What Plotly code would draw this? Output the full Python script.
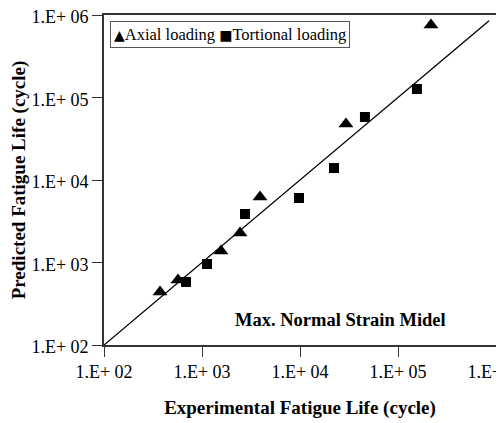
import plotly.graph_objects as go

# experimental vs predicted fatigue life (cycles)
axial_exp = [373, 569, 1563, 2443, 3908, 29440, 217000]
axial_pred = [439, 614, 1377, 2281, 6221, 47750, 757000]

tors_exp = [687, 1125, 2748, 9770, 22230, 46000, 156000]
tors_pred = [581, 959, 3873, 6053, 13960, 58000, 126800]

line_x = [100, 850000]
line_y = [100, 850000]

tick_vals = [1e2, 1e3, 1e4, 1e5, 1e6]
tick_text = ["1.E+ 02", "1.E+ 03", "1.E+ 04", "1.E+ 05", "1.E+ 06"]

font = "Liberation Serif, Times New Roman, serif"

fig = go.Figure()
fig.add_trace(go.Scatter(x=line_x, y=line_y, mode="lines",
                         line=dict(color="black", width=1.3), showlegend=False))
fig.add_trace(go.Scatter(x=axial_exp, y=axial_pred, mode="markers", name="Axial loading",
                         marker=dict(symbol="triangle-up", size=13, color="black"),
                         showlegend=False))
fig.add_trace(go.Scatter(x=tors_exp, y=tors_pred, mode="markers", name="Tortional loading",
                         marker=dict(symbol="square", size=10, color="black"),
                         showlegend=False))

axis_common = dict(
    type="log", tickvals=tick_vals, ticktext=tick_text,
    showline=True, linecolor="#333333", linewidth=1.6, mirror=True,
    ticks="outside", ticklen=10, tickwidth=1.3, tickcolor="#333333",
    showgrid=False, zeroline=False, automargin=False,
    ticklabeloverflow="allow",
    tickfont=dict(family=font, size=18, color="black"),
)

fig.update_xaxes(range=[2, 6], title=dict(text="<b>Experimental Fatigue Life (cycle)</b>",
                 font=dict(family=font, size=19, color="black"), standoff=19), **axis_common)
fig.update_yaxes(range=[2, 6], title=dict(text="<b>Predicted Fatigue Life (cycle)</b>",
                 font=dict(family=font, size=19, color="black"), standoff=19),
                 ticklabelshift=2, **axis_common)

legend_text = ("<span style='font-family:DejaVu Sans;font-size:14px'>▲</span>Axial loading "
               "<span style='font-family:DejaVu Sans;font-size:14px'>■</span>Tortional loading")
fig.add_annotation(x=0.016, y=0.94, xref="paper", yref="paper", xanchor="left", yanchor="middle",
                   text=legend_text, showarrow=False,
                   font=dict(family=font, size=16.5, color="black"),
                   bordercolor="#555555", borderwidth=1, borderpad=3, bgcolor="white")
fig.add_annotation(x=0.878, y=0.075, xref="paper", yref="paper", xanchor="right", yanchor="middle",
                   text="<b>Max. Normal Strain Midel</b>", showarrow=False,
                   font=dict(family=font, size=18.5, color="black"))

# page body has an 8px margin, so the figure is sized to fit the window
fig.update_layout(
    width=496, height=415,
    margin=dict(l=96, r=8, t=7, b=78),
    plot_bgcolor="white", paper_bgcolor="white",
)

fig.write_html("out.html")
